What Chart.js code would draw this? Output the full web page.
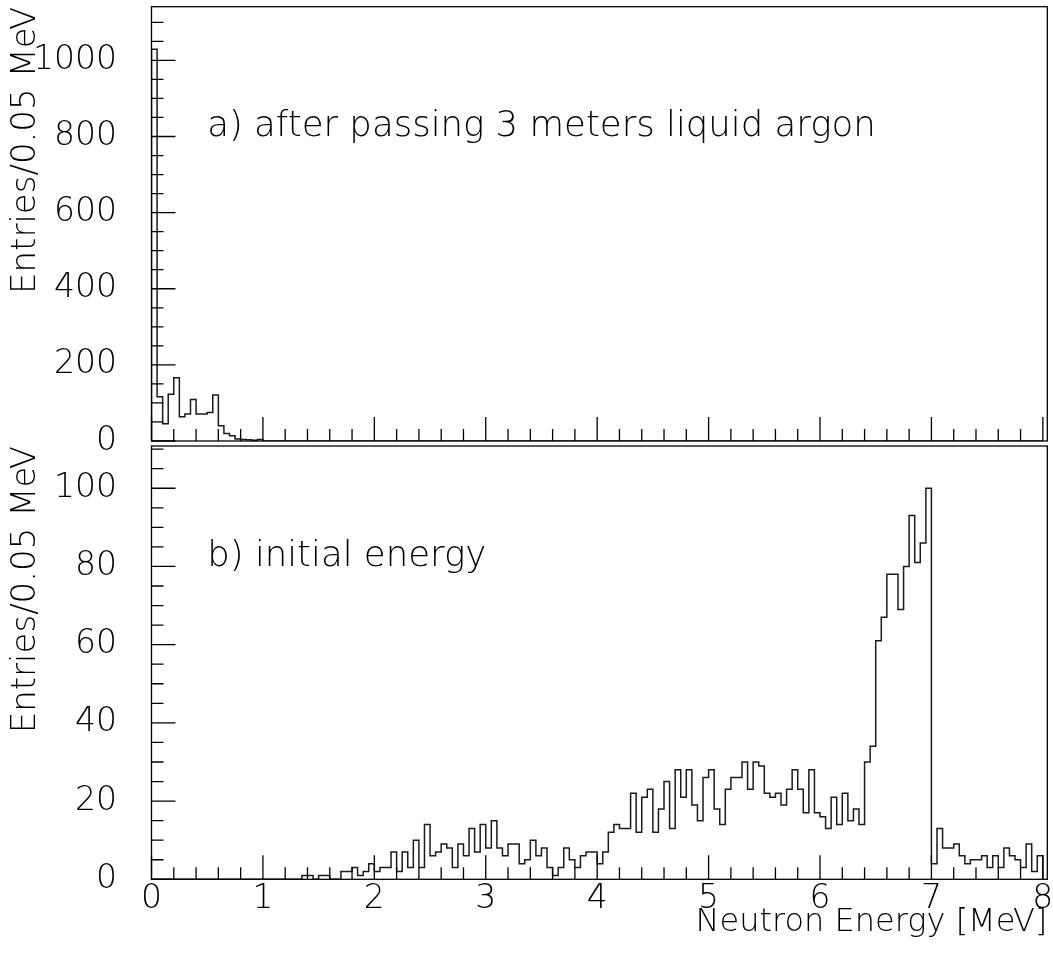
<!DOCTYPE html>
<html lang="en">
<head>
<meta charset="UTF-8">
<title>Neutron Energy</title>
<script src="https://cdn.jsdelivr.net/npm/chart.js"></script>
<style>
  body { margin: 0; background: #fff; }
  #wrap { position: relative; width: 1053px; height: 953px; }
  canvas { position: absolute; left: 0; }
  #chartTop { top: 0; }
  #chartBottom { top: 443px; }
</style>
</head>
<body>
<div id="wrap">
  <canvas id="chartTop" width="1053" height="470"></canvas>
  <canvas id="chartBottom" width="1053" height="510"></canvas>
</div>

<script>
// both histograms use 0.05 MeV bins from 0 to 8 MeV
var binWidth = 0.05;

// a) after passing 3 meters liquid argon (entries per bin)
var countsAfter = [
  1029, 116, 45, 123, 166, 64, 71, 109, 71, 71, 75, 121, 40, 20, 14, 5, 4, 3, 2, 4,
  0, 0, 0, 0, 0, 0, 0, 0, 0, 0, 0, 0, 0, 0, 0, 0, 0, 0, 0, 0,
  0, 0, 0, 0, 0, 0, 0, 0, 0, 0, 0, 0, 0, 0, 0, 0, 0, 0, 0, 0,
  0, 0, 0, 0, 0, 0, 0, 0, 0, 0, 0, 0, 0, 0, 0, 0, 0, 0, 0, 0,
  0, 0, 0, 0, 0, 0, 0, 0, 0, 0, 0, 0, 0, 0, 0, 0, 0, 0, 0, 0,
  0, 0, 0, 0, 0, 0, 0, 0, 0, 0, 0, 0, 0, 0, 0, 0, 0, 0, 0, 0,
  0, 0, 0, 0, 0, 0, 0, 0, 0, 0, 0, 0, 0, 0, 0, 0, 0, 0, 0, 0,
  0, 0, 0, 0, 0, 0, 0, 0, 0, 0, 0, 0, 0, 0, 0, 0, 0, 0, 0, 0
];

// b) initial energy (entries per bin)
var countsInitial = [
  0, 0, 0, 0, 0, 0, 0, 0, 0, 0, 0, 0, 0, 0, 0, 0, 0, 0, 0, 0,
  0, 0, 0, 0, 0, 0, 0, 1, 1, 0, 1, 1, 0, 0, 2, 2, 3, 1, 2, 4,
  2, 3, 3, 7, 2, 7, 3, 10, 3, 14, 6, 7, 9, 8, 3, 9, 6, 13, 7, 14,
  8, 15, 8, 6, 9, 9, 4, 5, 10, 6, 8, 3, 1, 3, 8, 5, 3, 6, 7, 7,
  4, 7, 12, 14, 13, 13, 22, 12, 21, 23, 12, 18, 25, 13, 28, 21, 28, 19, 15, 26,
  28, 18, 14, 23, 26, 26, 30, 23, 30, 29, 22, 21, 22, 19, 23, 28, 23, 17, 28, 17,
  16, 13, 21, 14, 22, 15, 18, 14, 30, 34, 61, 67, 78, 78, 69, 80, 93, 81, 86, 100,
  4, 13, 8, 8, 9, 6, 4, 5, 5, 6, 3, 6, 3, 8, 6, 5, 3, 9, 2, 6
];

var xTickValues = [0, 1, 2, 3, 4, 5, 6, 7, 8];
var yTicksAfter = [0, 200, 400, 600, 800, 1000];
var yTicksInitial = [0, 20, 40, 60, 80, 100];

var FONT = '"DejaVu Sans", sans-serif';
Chart.defaults.font.family = FONT;
Chart.defaults.font.weight = 200;
Chart.defaults.color = '#000';

// outline of a histogram: left edge of every bin, closed at both ends
function histoPoints(counts) {
  var pts = [{ x: 0, y: 0 }];
  for (var i = 0; i < counts.length; i++) {
    pts.push({ x: i * binWidth, y: counts[i] });
  }
  pts.push({ x: counts.length * binWidth, y: 0 });
  return pts;
}

// frame, inner ticks (paw style) and the panel caption
var rootFrame = {
  id: 'rootFrame',
  afterDatasetsDraw: function (chart, args, opts) {
    var ctx = chart.ctx, a = chart.chartArea;
    var xs = chart.scales.x, ys = chart.scales.y;
    ctx.save();
    ctx.strokeStyle = '#000';
    ctx.lineWidth = 1.3;
    ctx.strokeRect(a.left, a.top, a.right - a.left, a.bottom - a.top);

    ctx.beginPath();
    var k, v, big, p;
    for (k = 0; k * opts.xMinor <= xs.max + 1e-9; k++) {
      v = k * opts.xMinor;
      big = Math.abs(v / opts.xMajor - Math.round(v / opts.xMajor)) < 1e-6;
      p = xs.getPixelForValue(v);
      ctx.moveTo(p, a.bottom);
      ctx.lineTo(p, a.bottom - (big ? 24 : 12));
    }
    for (k = 0; k * opts.yMinor <= ys.max + 1e-9; k++) {
      v = k * opts.yMinor;
      big = Math.abs(v / opts.yMajor - Math.round(v / opts.yMajor)) < 1e-6;
      p = ys.getPixelForValue(v);
      ctx.moveTo(a.left, p);
      ctx.lineTo(a.left + (big ? 24 : 12), p);
    }
    ctx.stroke();

    ctx.fillStyle = '#000';
    ctx.font = '200 35.5px ' + FONT;
    ctx.textBaseline = 'alphabetic';
    ctx.textAlign = 'left';
    ctx.fillText(opts.label, xs.getPixelForValue(opts.labelAt[0]), ys.getPixelForValue(opts.labelAt[1]));
    ctx.restore();
  }
};

function makePanel(canvasId, counts, yMax, yTicks, frameOpts, showX, padding) {
  return new Chart(document.getElementById(canvasId), {
    type: 'scatter',
    data: {
      datasets: [{
        data: histoPoints(counts),
        showLine: true,
        stepped: true,
        borderColor: '#1a1a1a',
        borderWidth: 1.5,
        pointRadius: 0,
        fill: false
      }]
    },
    options: {
      responsive: false,
      animation: false,
      devicePixelRatio: 1,
      layout: { padding: padding },
      plugins: {
        legend: { display: false },
        tooltip: { enabled: false },
        rootFrame: frameOpts
      },
      scales: {
        x: {
          type: 'linear',
          display: showX,
          min: 0,
          max: 8.04,
          grid: { display: false, drawTicks: false },
          border: { display: false },
          afterBuildTicks: function (scale) {
            scale.ticks = xTickValues.map(function (t) { return { value: t }; });
          },
          afterFit: function (scale) {
            scale.height = showX ? 73.7 : 0;
            scale.paddingLeft = 0;
            scale.paddingRight = 0;
          },
          ticks: {
            autoSkip: false,
            maxRotation: 0,
            padding: 0,
            font: { size: 33 },
            callback: function (v) { return String(v); }
          },
          title: {
            display: true,
            text: 'Neutron Energy [MeV]',
            align: 'end',
            font: { size: 32 },
            padding: { top: 0, bottom: 11.6 }
          }
        },
        y: {
          type: 'linear',
          min: 0,
          max: yMax,
          grid: { display: false, drawTicks: false },
          border: { display: false },
          afterBuildTicks: function (scale) {
            scale.ticks = yTicks.map(function (t) { return { value: t }; });
          },
          afterFit: function (scale) {
            scale.width = 151.5;
            scale.paddingTop = 0;
            scale.paddingBottom = 0;
          },
          ticks: {
            padding: 34.5,
            font: { size: 33 },
            callback: function (v) { return String(v); }
          },
          title: {
            display: true,
            text: 'Entries/0.05 MeV',
            align: 'end',
            font: { size: 34 },
            padding: { top: 5.3, bottom: 0 }
          }
        }
      }
    },
    plugins: [rootFrame]
  });
}

makePanel('chartTop', countsAfter, 1141, yTicksAfter, {
  xMinor: 0.2, xMajor: 1, yMinor: 50, yMajor: 200,
  label: 'a) after passing 3 meters liquid argon', labelAt: [0.5, 800]
}, false, { left: 0, top: 6.7, right: 5.7, bottom: 29 });

makePanel('chartBottom', countsInitial, 110.8, yTicksInitial, {
  xMinor: 0.2, xMajor: 1, yMinor: 5, yMajor: 20,
  label: 'b) initial energy', labelAt: [0.5, 80]
}, true, { left: 0, top: 3, right: 5.7, bottom: 0 });
</script>
</body>
</html>
